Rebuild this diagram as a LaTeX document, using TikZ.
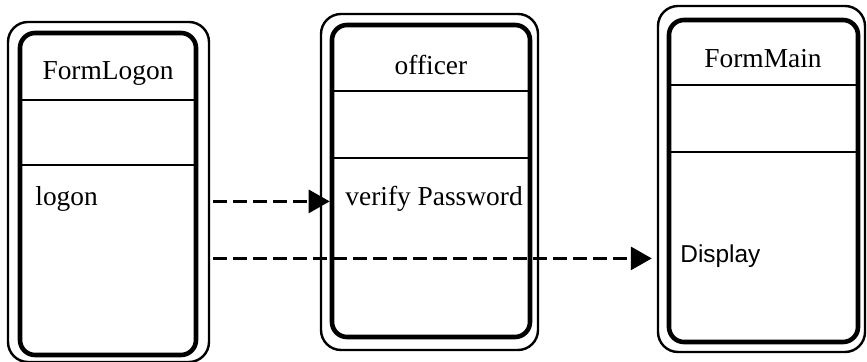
\documentclass[tikz,border=0pt]{standalone}
\usepackage{fontspec}
\setmainfont{Liberation Serif}
\newfontfamily\arialfont{Liberation Sans}
\usetikzlibrary{positioning,arrows.meta}

\begin{document}
\begin{tikzpicture}[x=0.5pt,y=-0.5pt,
  outer/.style={draw,line width=1.2pt,rounded corners=10pt,inner sep=0pt},
  inner/.style={draw,line width=2.3pt,rounded corners=7.5pt,inner sep=0pt},
  sep/.style={line width=1pt},
  txt/.style={inner sep=0pt,font=\fontsize{13.7}{16}\selectfont},
  msg/.style={line width=1.5pt,dash pattern=on 7pt off 3pt,
    -{Triangle[length=10.5pt,width=11.5pt]}}]
\useasboundingbox (0,0) rectangle (867,362);
% the three classes
\node [outer,minimum width=100.5pt,minimum height=170pt] (b1o) at (108.5,192) {};
\node [inner,minimum width=88pt,minimum height=161pt] (b1) at (108,194) {};
\node [outer,minimum width=108.5pt,minimum height=168pt] (b2o) at (429.5,182) {};
\node [inner,minimum width=99pt,minimum height=156pt] (b2) at (431,181) {};
\node [outer,minimum width=103.5pt,minimum height=173pt] (b3o) at (761.5,179) {};
\node [inner,minimum width=94.5pt,minimum height=161pt] (b3) at (763.5,181) {};
\coordinate (h1) at (0,100);
\coordinate (h2) at (0,165);
\coordinate (k1) at (0,91);
\coordinate (k2) at (0,158);
\coordinate (m1) at (0,85);
\coordinate (m2) at (0,152);
\draw [sep] (b1.west |- h1) -- (b1.east |- h1);
\draw [sep] (b1.west |- h2) -- (b1.east |- h2);
\draw [sep] (b2.west |- k1) -- (b2.east |- k1);
\draw [sep] (b2.west |- k2) -- (b2.east |- k2);
\draw [sep] (b3.west |- m1) -- (b3.east |- m1);
\draw [sep] (b3.west |- m2) -- (b3.east |- m2);
\node [txt] (n1) at (108,73) {FormLogon};
\node [txt] (n2) at (431,65) {officer};
\node [txt] (n3) at (763,59) {FormMain};
\node [txt,anchor=base west] (lg) at (35,206) {logon};
\node [txt,anchor=base west] (vp) at (345,206) {verify Password};
\node [txt,anchor=base west,font=\arialfont\fontsize{12.2}{14}\selectfont] (dsp) at (680,263) {Display};
% messages
\draw [msg] ([xshift=1.5pt]b1o.east |- lg.mid) -- (b2.west |- lg.mid);
\draw [msg,shorten >=2.5pt] ([xshift=1.5pt]b1o.east |- dsp.mid) -- (b3o.west |- dsp.mid);
\end{tikzpicture}
\end{document}
